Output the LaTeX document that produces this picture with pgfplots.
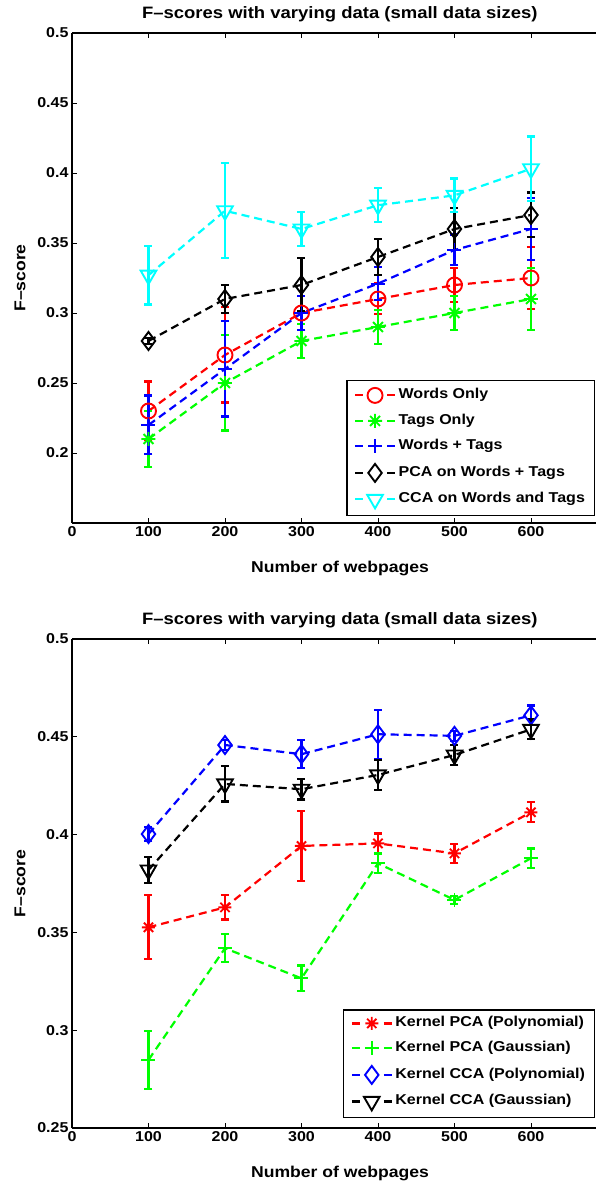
\documentclass[border=0pt]{standalone}
\usepackage{fontspec}
\setmainfont{Liberation Sans}[FakeStretch=1.12]
\usepackage{xcolor}
\usepackage{pgfplots}
\pgfplotsset{compat=1.18}

\definecolor{mred}{rgb}{1,0,0}
\definecolor{mgreen}{rgb}{0,1,0}
\definecolor{mblue}{rgb}{0,0,1}
\definecolor{mcyan}{rgb}{0,1,1}

% matlab style '*' : plus and cross together
\pgfdeclareplotmark{mstar}{%
  \pgfpathmoveto{\pgfqpoint{-\pgfplotmarksize}{0pt}}%
  \pgfpathlineto{\pgfqpoint{\pgfplotmarksize}{0pt}}%
  \pgfpathmoveto{\pgfqpoint{0pt}{-\pgfplotmarksize}}%
  \pgfpathlineto{\pgfqpoint{0pt}{\pgfplotmarksize}}%
  \pgfpathmoveto{\pgfqpoint{-.707\pgfplotmarksize}{-.707\pgfplotmarksize}}%
  \pgfpathlineto{\pgfqpoint{.707\pgfplotmarksize}{.707\pgfplotmarksize}}%
  \pgfpathmoveto{\pgfqpoint{-.707\pgfplotmarksize}{.707\pgfplotmarksize}}%
  \pgfpathlineto{\pgfqpoint{.707\pgfplotmarksize}{-.707\pgfplotmarksize}}%
  \pgfusepathqstroke}

\tikzset{mk/.style={solid, line width=1.9pt}, mkv/.style={solid, line width=1.9pt, rotate=180}}

\pgfplotstableread{
x y e
100 0.230 0.021
200 0.270 0.034
300 0.300 0.012
400 0.310 0.011
500 0.320 0.012
600 0.325 0.022
}\wordsonly
\pgfplotstableread{
x y e
100 0.210 0.020
200 0.250 0.034
300 0.280 0.012
400 0.290 0.012
500 0.300 0.012
600 0.310 0.022
}\tagsonly
\pgfplotstableread{
x y e
100 0.220 0.021
200 0.260 0.034
300 0.300 0.012
400 0.321 0.012
500 0.345 0.011
600 0.360 0.022
}\wordstags
\pgfplotstableread{
x y e
100 0.280 0.002
200 0.310 0.010
300 0.320 0.019
400 0.340 0.013
500 0.360 0.015
600 0.370 0.016
}\pcawt
\pgfplotstableread{
x y e
100 0.327 0.021
200 0.373 0.034
300 0.360 0.012
400 0.377 0.012
500 0.384 0.012
600 0.403 0.023
}\ccawt

\pgfplotstableread{
x y e
100 0.3526 0.0164
200 0.3628 0.0062
300 0.3942 0.0179
400 0.3955 0.0051
500 0.3904 0.0049
600 0.4114 0.0051
}\kpcapoly
\pgfplotstableread{
x y e
100 0.2848 0.0148
200 0.3419 0.0071
300 0.3265 0.0066
400 0.3853 0.0050
500 0.3666 0.0020
600 0.3879 0.0050
}\kpcagauss
\pgfplotstableread{
x y e
100 0.4003 0.0035
200 0.4458 0.0025
300 0.4411 0.0072
400 0.4513 0.0126
500 0.4505 0.0025
600 0.4610 0.0050
}\kccapoly
\pgfplotstableread{
x y e
100 0.3819 0.0068
200 0.4259 0.0090
300 0.4232 0.0053
400 0.4305 0.0077
500 0.4407 0.0050
600 0.4538 0.0050
}\kccagauss

\pgfplotsset{
  fig/.style={
    scale only axis, width=524pt,
    xmin=0, xmax=685,
    axis x line*=box, axis y line*=left,
    xtick={0,100,...,600},
    tick align=inside, major tick length=5pt,
    axis line style={line width=1.3pt},
    every tick/.style={black, line width=0.9pt},
    tick label style={font=\fontsize{14.3}{14}\selectfont\bfseries},
    /pgf/number format/assume math mode=true,
    every axis title/.style={at={(axis description cs:0.511,1)}, anchor=center,
      yshift=19pt, font=\fontsize{16.5}{16}\selectfont\bfseries},
    every axis x label/.style={at={(axis description cs:0.5115,0)}, anchor=center,
      yshift=-45pt, font=\fontsize{15.7}{16}\selectfont\bfseries},
    every axis y label/.style={at={(axis description cs:0,0.5)}, anchor=center,
      xshift=-52pt, rotate=90, font=\fontsize{15.7}{16}\selectfont\bfseries},
    legend cell align=left,
    legend style={draw=black, line width=1.2pt, fill=white,
      font=\fontsize{14.3}{14}\selectfont\bfseries,
      inner xsep=7pt, inner ysep=7pt, row sep=11pt,
      nodes={inner sep=0pt, inner xsep=2.5pt, text height=10pt, text depth=3pt}},
    legend image code/.code={%
      \draw[mark repeat=2, mark phase=2, #1, dash pattern=on 8pt off 24pt]
        plot coordinates {(0pt,0pt) (20pt,0pt) (40pt,0pt)};},
    error bars/y dir=both, error bars/y explicit,
    error bars/error bar style={solid, line width=2.2pt},
    error bars/error mark options={rotate=90, mark size=4pt, line width=2.2pt},
  },
  ser/.style={#1, line width=2.2pt, dash pattern=on 8pt off 5pt},
}

\begin{document}
\begin{tikzpicture}
\useasboundingbox (-72pt,523pt) rectangle (524pt,-662pt);

\begin{axis}[fig,
  at={(0pt,0pt)}, height=490pt,
  ymin=0.15, ymax=0.5,
  ytick={0.2,0.25,0.3,0.35,0.4,0.45,0.5},
  yticklabels={0.2,0.25,0.3,0.35,0.4,0.45,0.5},
  title={F--scores with varying data (small data sizes)},
  xlabel={Number of webpages}, ylabel={F--score},
  legend style={at={(rel axis cs:1,0)}, anchor=south east, xshift=-1pt, yshift=7pt},
]
\addplot[ser=mred, mark=o, mark size=7.5pt, mark options={mk}]
  table[x=x, y=y, y error=e] {\wordsonly};
\addplot[ser=mgreen, mark=mstar, mark size=7pt, mark options={mk}]
  table[x=x, y=y, y error=e] {\tagsonly};
\addplot[ser=mblue, mark=+, mark size=7pt, mark options={mk}]
  table[x=x, y=y, y error=e] {\wordstags};
\addplot[ser=black, mark=diamond, mark size=9pt, mark options={mk}]
  table[x=x, y=y, y error=e] {\pcawt};
\addplot[ser=mcyan, mark=triangle, mark size=9pt, mark options={mkv}]
  table[x=x, y=y, y error=e] {\ccawt};
\legend{Words Only, Tags Only, Words + Tags, PCA on Words + Tags, CCA on Words and Tags}
\end{axis}

\begin{axis}[fig,
  at={(0pt,-605pt)}, height=489pt,
  ymin=0.25, ymax=0.5,
  ytick={0.25,0.3,0.35,0.4,0.45,0.5},
  yticklabels={0.25,0.3,0.35,0.4,0.45,0.5},
  title={F--scores with varying data (small data sizes)},
  xlabel={Number of webpages}, ylabel={F--score},
  legend style={at={(rel axis cs:1,0)}, anchor=south east, xshift=-1pt, yshift=10pt},
]
\addplot[ser=mred, mark=mstar, mark size=6.5pt, mark options={mk}]
  table[x=x, y=y, y error=e] {\kpcapoly};
\addplot[ser=mgreen, mark=+, mark size=7pt, mark options={mk}]
  table[x=x, y=y, y error=e] {\kpcagauss};
\addplot[ser=mblue, mark=diamond, mark size=9pt, mark options={mk}]
  table[x=x, y=y, y error=e] {\kccapoly};
\addplot[ser=black, mark=triangle, mark size=9pt, mark options={mkv}]
  table[x=x, y=y, y error=e] {\kccagauss};
\legend{Kernel PCA (Polynomial), Kernel PCA (Gaussian), Kernel CCA (Polynomial), Kernel CCA (Gaussian)}
\end{axis}
\end{tikzpicture}
\end{document}
